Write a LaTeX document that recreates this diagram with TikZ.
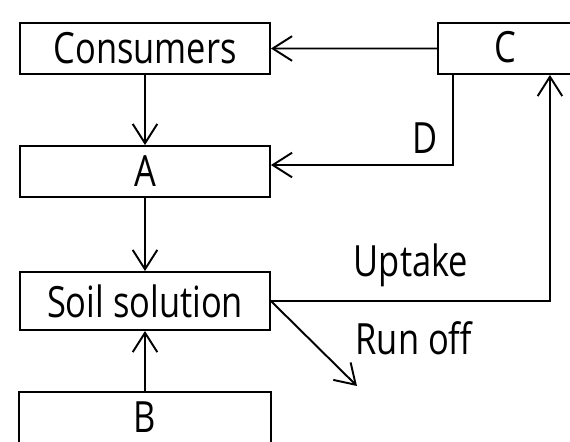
\documentclass[tikz,border=0pt]{standalone}
\usepackage{fontspec}
\setsansfont[FakeStretch=0.8]{Open Sans}
\usetikzlibrary{arrows.meta, positioning}

\begin{document}
\begin{tikzpicture}[x=0.02cm, y=-0.02cm,
	>={Straight Barb[length=11pt, width=14pt]},
	every node/.style={font=\sffamily\fontsize{24.5}{28}\selectfont, inner sep=0pt},
	box/.style={draw, line width=1.1pt, minimum width=5cm, minimum height=1.02cm},
	flow/.style={->, line width=1.1pt}]
	\useasboundingbox (0, 0) rectangle (570, 441);
	\clip (0, 0) rectangle (570, 441);

	% boxes of the cycle
	\node[box] (cons) at (145, 48.5) {Consumers};
	\node[box] (A) at (145, 171.5) {A};
	\node[box, minimum height=1.16cm] (soil) at (145, 301) {Soil solution};
	\node[box, draw=none, minimum height=0.96cm] (B) at (145, 417) {B};
	\draw[line width=1.1pt] (B.south west) |- (B.north east) -- (B.south east);
	\node[box, minimum width=4.48cm, anchor=north west] (C) at (437, 22) {};
	\node (Clab) at (505, 47) {C};

	% flows
	\draw[flow] (cons) -- (A);
	\draw[flow] (A) -- (soil);
	\draw[flow] (B) -- (soil);
	\draw[flow] (C.west) -- (cons.east);
	\draw[flow] (C.south -| 453, 0) |- ([yshift=0.13cm]A.east);
	\draw[flow] (soil.east) -| (C.south);
	\coordinate (runend) at (357, 386);
	\draw[flow] (soil.east) -- (runend);

	\node (D) at (425, 138) {D};
	\node (uptake) at (411, 265) {Uptake};
	\node (runoff) at (414, 338) {Run off};
\end{tikzpicture}
\end{document}
